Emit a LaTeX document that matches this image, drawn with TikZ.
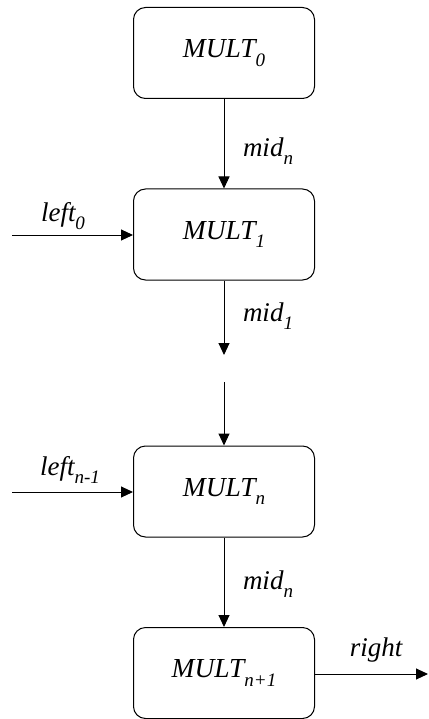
\documentclass[tikz,border=0pt]{standalone}
\usepackage{amsmath}
\usepackage{fontspec}
\setmainfont{Liberation Serif}
\usetikzlibrary{arrows.meta}
\newcommand{\sbt}[1]{\raisebox{-0.3em}{\fontsize{19}{21}\selectfont\itshape #1}}
\begin{document}
\begin{tikzpicture}[x=1pt,y=-1pt,
  box/.style={draw, line width=1pt, rounded corners=12pt, minimum width=181pt, minimum height=91pt, inner sep=0pt, font=\fontsize{27.5}{31}\selectfont\itshape},
  lbl/.style={font=\fontsize{27}{31}\selectfont\itshape, inner sep=0pt},
  conn/.style={line width=1pt, -{Triangle[length=12pt,width=11pt]}}]
\useasboundingbox (0,0) rectangle (428,719);
\node[box] (m0) at (224,53) {MULT\sbt{0}};
\node[box] (m1) at (224,234.5) {MULT\sbt{1}};
\node[box] (mn) at (224,491.5) {MULT\sbt{n}};
\node[box] (mn1) at (224,673) {MULT\sbt{n+1}};
\coordinate (l0) at (12,235);
\coordinate (ln) at (12,492);
\coordinate (gapa) at (224,355);
\coordinate (gapb) at (224,382);
\coordinate (r) at (428,674);
\draw[conn] (m0) -- (m1);
\draw[conn] (l0) -- (m1.west |- l0);
\draw[conn] (m1) -- (gapa);
\draw[conn] (gapb) -- (mn);
\draw[conn] (ln) -- (mn.west |- ln);
\draw[conn] (mn) -- (mn1);
\draw[conn] (mn1.east |- r) -- (r);
\node[lbl] (t1) at (268,151) {mid\sbt{n}};
\node[lbl] (t2) at (63,216) {left\sbt{0}};
\node[lbl] (t3) at (268,316) {mid\sbt{1}};
\node[lbl] (t4) at (70,470) {left\sbt{n-1}};
\node[lbl] (t5) at (268,584) {mid\sbt{n}};
\node[lbl] (t6) at (376,650) {right};
\end{tikzpicture}
\end{document}
